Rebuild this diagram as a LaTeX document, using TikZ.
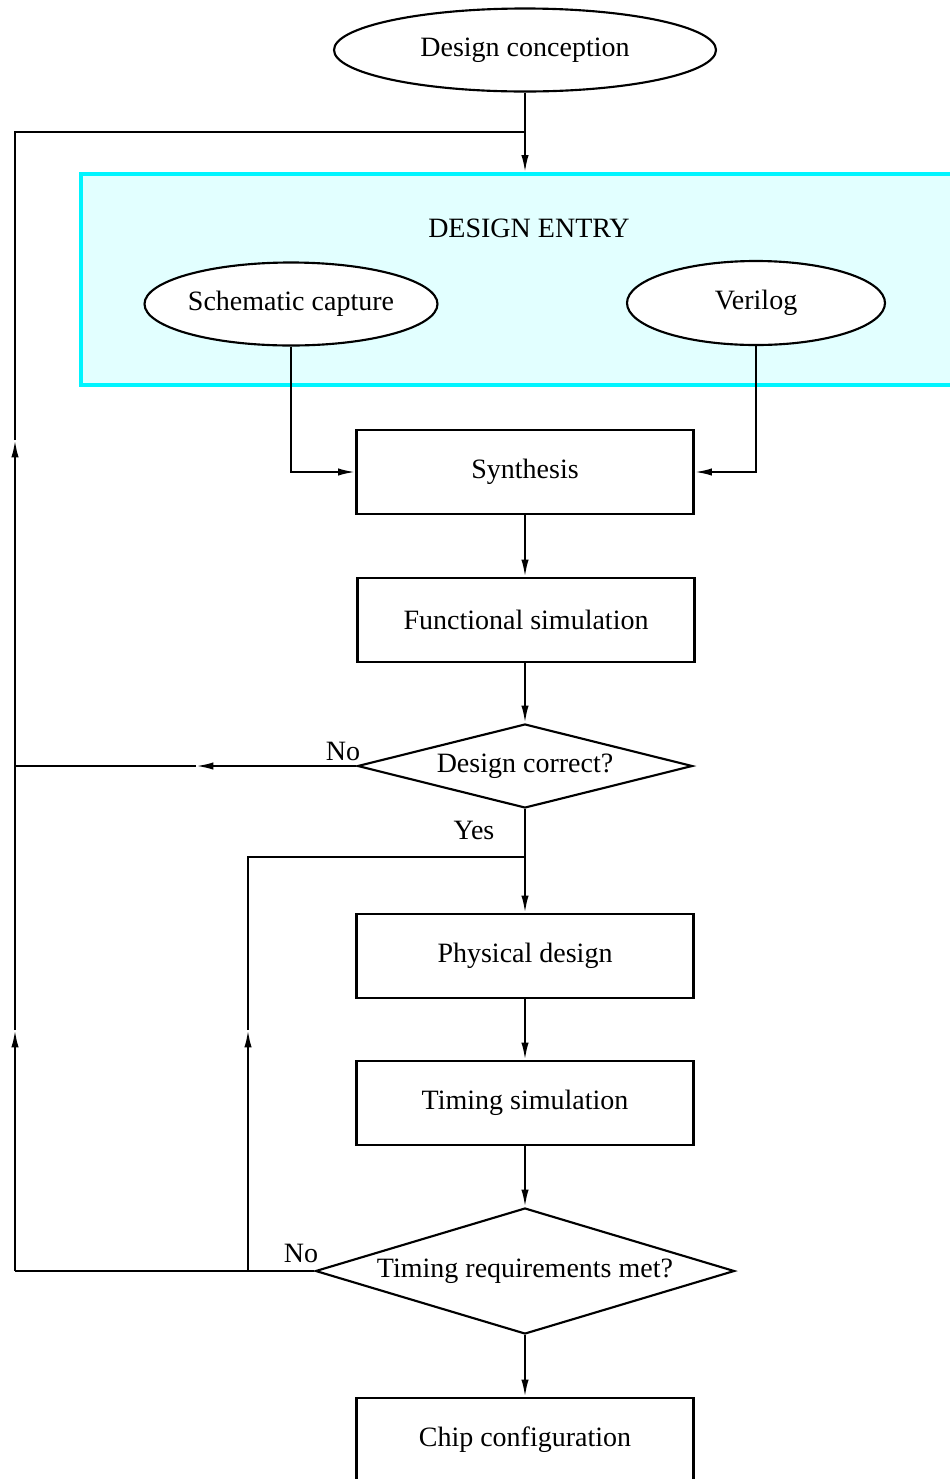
\documentclass[tikz,border=0pt]{standalone}
\usepackage{fontspec}
\setmainfont{Liberation Serif}
\usetikzlibrary{shapes.geometric,arrows.meta}
\definecolor{entryfill}{RGB}{226,255,255}
\definecolor{entryline}{RGB}{0,245,255}
\tikzset{
  flow/.style={x=0.75pt, y=-0.75pt, line width=1.6pt,
    font=\fontsize{21}{24}\selectfont,
    >={Latex[length=13pt,width=5.5pt]}},
  term/.style={ellipse, draw, fill=white, inner sep=0pt},
  stepbox/.style={rectangle, draw, fill=white, inner sep=0pt,
    minimum width=252.75pt, minimum height=63pt},
  decide/.style={diamond, draw, fill=white, inner sep=0pt},
  entrybox/.style={rectangle, draw=entryline, fill=entryfill, line width=2.4pt,
    minimum width=660pt, minimum height=158.25pt},
  tag/.style={inner sep=1pt},
}

\begin{document}
\begin{tikzpicture}[flow]
  \useasboundingbox (0,0) rectangle (950,1479);
  \clip (0,0) rectangle (950,1479);
  % design entry region
  \node[entrybox] (entry) at (521,279.5) {};
  \node (entrytitle) at (529,228) {DESIGN ENTRY};
  % nodes
  \node[term, minimum width=286.5pt, minimum height=62.25pt] (concept) at (525,50) {Design conception};
  \node[term, minimum width=219.75pt, minimum height=62.25pt] (schem) at (291,304) {Schematic capture};
  \node[term, minimum width=193.5pt, minimum height=63pt] (veri) at (756,303) {Verilog};
  \node[stepbox] (synth) at (525,472) {Synthesis};
  \node[stepbox] (func) at (526,620) {Functional simulation};
  \node[decide, aspect=4, minimum width=251.25pt, minimum height=63pt] (correct) at (525,766) {Design correct?};
  \node[stepbox] (phys) at (525,956) {Physical design};
  \node[stepbox] (timsim) at (525,1103) {Timing simulation};
  \node[decide, aspect=3.3, minimum width=314.25pt, minimum height=94.5pt] (timreq) at (525,1271) {Timing requirements met?};
  \node[stepbox] (chip) at (525,1440) {Chip configuration};
  % labels
  \node[tag] (nocorrect) at (343,751) {No};
  \node[tag] (yescorrect) at (474,830) {Yes};
  \node[tag] (notiming) at (301,1253) {No};
  % junctions
  \coordinate (jtop) at (525,132);
  \coordinate (ltop) at (15,132);
  \coordinate (lmid) at (15,766);
  \coordinate (lbot) at (15,1271);
  \coordinate (jyes) at (525,857);
  \coordinate (itop) at (248,857);
  \coordinate (ibot) at (248,1271);
  % main flow
  \draw[->] (concept) -- (concept |- entry.north);
  \draw[->] (schem.south) |- (synth.west);
  \draw[->] (veri.south) |- (synth.east);
  \draw[->] (synth) -- (synth |- func.north);
  \draw[->] (func.south -| correct.north) -- (correct.north);
  \draw[->] (correct) -- (phys);
  \draw[->] (phys) -- (timsim);
  \draw[->] (timsim) -- (timreq);
  \draw[->] (timreq) -- (chip);
  % feedback loops
  \draw[->] (correct.west) -- (196,766);
  \draw (196,766) -- (lmid);
  \draw (timreq.west) -- (lbot);
  \draw[->] (lbot) -- (15,1030);
  \draw[->] (15,1030) -- (15,440);
  \draw (15,440) -- (ltop) -- (jtop);
  \draw[->] (ibot) -- (248,1030);
  \draw (248,1030) -- (itop) -- (jyes);
\end{tikzpicture}
\end{document}
